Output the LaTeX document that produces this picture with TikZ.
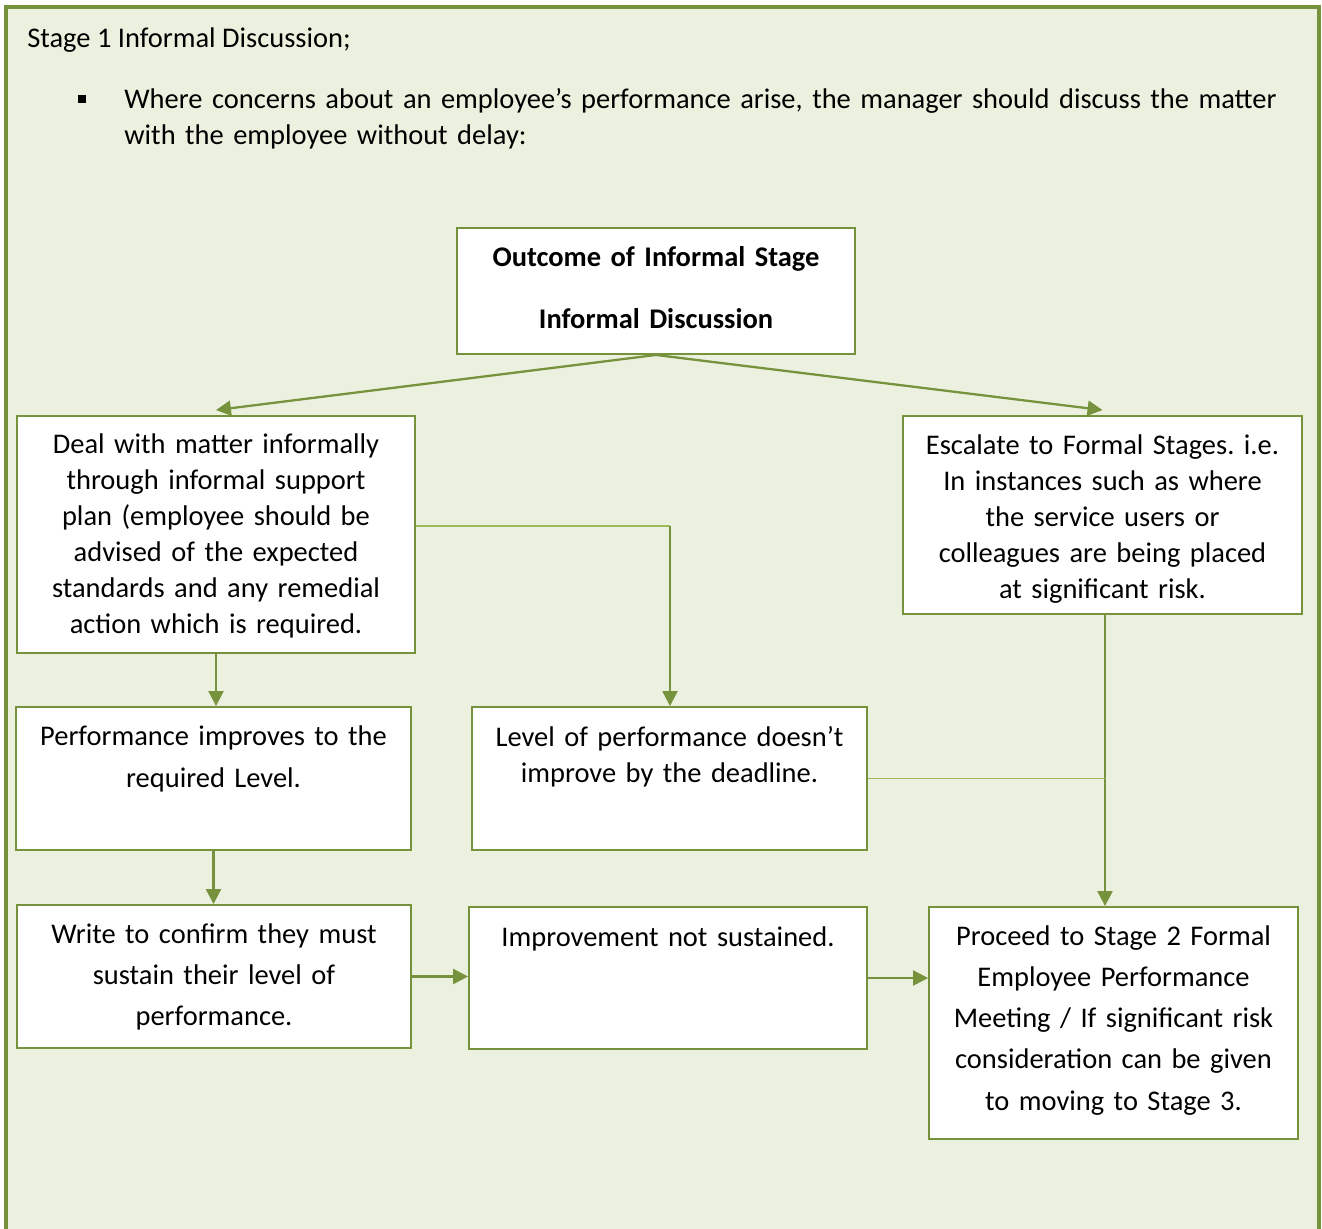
\documentclass[tikz,border=0pt]{standalone}
\usepackage{fontspec}
\setmainfont{Carlito}
\usepackage{xcolor}
\usetikzlibrary{arrows.meta, positioning}
\definecolor{olivedark}{HTML}{76923C}
\definecolor{olivelight}{HTML}{9BBB59}
\definecolor{olivepale}{HTML}{EBF1DE}
\frenchspacing

\begin{document}
\begin{tikzpicture}[x=0.02cm, y=-0.02cm]
        \tikzstyle{panel} = [draw=olivedark, line width=2.3pt, fill=olivepale]
        \tikzstyle{box} = [rectangle, draw=olivedark, line width=1.1pt, fill=white, inner sep=0pt]
        \tikzstyle{txt} = [inner sep=0pt, align=center, anchor=base, text width=7.6cm, font={\fontsize{16.2}{20.5}\selectfont}]
        \tikzstyle{wide} = [txt, font={\fontsize{16.2}{23.6}\selectfont}]
        \tikzstyle{plain} = [inner sep=0pt, anchor=base west, align=left, font={\fontsize{16.2}{20.5}\selectfont}]
        \tikzstyle{line} = [draw=olivedark, line width=1.3pt, -{Triangle[length=8.5pt, width=8.5pt]}]
        \tikzstyle{link} = [draw=olivelight, line width=1pt]

        \useasboundingbox (0,0) rectangle (1322,1228);
        \clip (0,0) rectangle (1322,1228);
        \path [panel] (6,7) rectangle (1319,1270);

        \node [plain] (title) at (27,47) {Stage 1 Informal Discussion;};
        \node [fill=black, inner sep=0pt, minimum size=0.16cm] (bullet) at (82,99) {};
        \node [plain, text width=23.4cm] (intro) at (124,108) {Where concerns about an employee’s performance arise, the manager should discuss the matter\\with the employee without delay:};

        \node [box, minimum width=7.96cm, minimum height=2.52cm] (outcome) at (656,291) {};
        \node [box, minimum width=7.96cm, minimum height=4.74cm] (deal) at (216,534.5) {};
        \node [box, minimum width=7.98cm, minimum height=3.96cm] (escalate) at (1102.5,515) {};
        \node [box, minimum width=7.9cm, minimum height=2.86cm] (perf) at (213.5,778.5) {};
        \node [box, minimum width=7.9cm, minimum height=2.86cm] (level) at (669.5,778.5) {};
        \node [box, minimum width=7.88cm, minimum height=2.86cm] (write) at (214,976.5) {};
        \node [box, minimum width=7.96cm, minimum height=2.84cm] (improve) at (668,978) {};
        \node [box, minimum width=7.38cm, minimum height=4.64cm] (proceed) at (1113.5,1023) {};

        \node [txt, font={\fontsize{16.2}{35.3}\selectfont\bfseries}] (outcome-t) at (656,266) {Outcome of Informal Stage\\Informal Discussion};
        \node [txt] (deal-t) at (216,453) {Deal with matter informally\\through informal support\\plan (employee should be\\advised of the expected\\standards and any remedial\\action which is required.};
        \node [txt] (escalate-t) at (1102.5,454) {Escalate to Formal Stages. i.e.\\In instances such as where\\the service users or\\colleagues are being placed\\at significant risk.};
        \node [wide, font={\fontsize{16.2}{23.9}\selectfont}] (perf-t) at (213.5,745) {Performance improves to the\\required Level.};
        \node [txt] (level-t) at (669.5,746) {Level of performance doesn’t\\improve by the deadline.};
        \node [wide] (write-t) at (214,943) {Write to confirm they must\\sustain their level of\\performance.};
        \node [txt] (improve-t) at (668,946) {Improvement not sustained.};
        \node [wide, font={\fontsize{16.2}{23.5}\selectfont}] (proceed-t) at (1113.5,945) {Proceed to Stage 2 Formal\\Employee Performance\\Meeting / If significant risk\\consideration can be given\\to moving to Stage 3.};

        \path [line] (outcome.south) -- ([yshift=0.1cm]deal.north);
        \path [line] (outcome.south) -- ([yshift=0.1cm]escalate.north);
        \path [line] (deal.south) -- (deal.south |- perf.north);
        \path [line] (perf.south) -- (perf.south |- write.north);
        \path [line] (write.east) -- (write.east -| improve.west);
        \path [line] (improve.east) -- (improve.east -| proceed.west);

        \coordinate (bend) at (670,526);
        \path [link] (bend -| deal.east) -- (bend);
        \path [line] (bend) -- (bend |- level.north);

        \coordinate (drop) at ([xshift=0.05cm]escalate.south);
        \coordinate (join) at (drop |- level.east);
        \path [line] (drop) -- (drop |- proceed.north);
        \path [link] (level.east) -- (join);
    \end{tikzpicture}
\end{document}
